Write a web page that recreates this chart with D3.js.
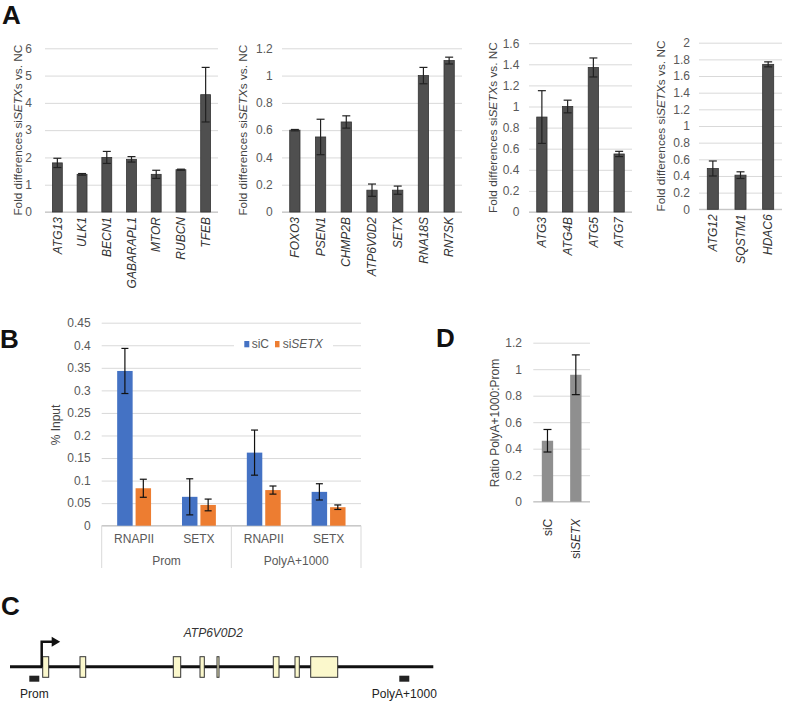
<!DOCTYPE html>
<html><head><meta charset="utf-8">
<script src="https://cdn.jsdelivr.net/npm/d3@7"></script>
<style>body{margin:0;background:#fff}svg{display:block;font-family:"Liberation Sans",Arial,sans-serif}</style>
</head><body><svg id="c" width="800" height="701"></svg>
<script>
// ---------- Panel A data ----------
const a1Genes = ["ATG13","ULK1","BECN1","GABARAPL1","MTOR","RUBCN","TFEB"];
const a1Values = [1.8,1.38,2.0,1.93,1.38,1.55,4.3];
const a1Errors = [0.17,0.03,0.22,0.1,0.15,0.02,1.0];
const a1Ticks = [0,1,2,3,4,5,6];

const a2Genes = ["FOXO3","PSEN1","CHMP2B","ATP6V0D2","SETX","RNA18S","RN7SK"];
const a2Values = [0.6,0.55,0.66,0.16,0.16,1.0,1.11];
const a2Errors = [0.005,0.13,0.045,0.045,0.03,0.06,0.025];
const a2Ticks = [0,0.2,0.4,0.6,0.8,1,1.2];

const a3Genes = ["ATG3","ATG4B","ATG5","ATG7"];
const a3Values = [0.9,1.0,1.37,0.55];
const a3Errors = [0.25,0.06,0.09,0.025];
const a3Ticks = [0,0.2,0.4,0.6,0.8,1,1.2,1.4,1.6];

const a4Genes = ["ATG12","SQSTM1","HDAC6"];
const a4Values = [0.49,0.41,1.74];
const a4Errors = [0.09,0.04,0.03];
const a4Ticks = [0,0.2,0.4,0.6,0.8,1,1.2,1.4,1.6,1.8,2];

// ---------- Panel B data ----------
const bTargets = ["RNAPII","SETX","RNAPII","SETX"];
const bRegions = ["Prom","PolyA+1000"];
const bSeries = ["siC","siSETX"];
const bSiC = [0.343,0.064,0.162,0.075];
const bSiCErr = [0.05,0.04,0.05,0.018];
const bSiSETX = [0.083,0.046,0.079,0.041];
const bSiSETXErr = [0.02,0.013,0.009,0.005];
const bTicks = [0,0.05,0.1,0.15,0.2,0.25,0.3,0.35,0.4,0.45];

// ---------- Panel D data ----------
const dCats = ["siC","siSETX"];
const dValues = [0.46,0.958];
const dErrors = [0.085,0.15];
const dTicks = [0,0.2,0.4,0.6,0.8,1,1.2];

// ---------- Panel C gene model (relative units) ----------
const geneLength = 423.3;
const exons = [[32.7,38.7],[70,75.7],[163.3,170.7],[190,194.3],[207,209],[263.3,269],[285,289.3],[300.7,327.7]];
const tssPos = 31.7;
const primers = [{name:"Prom",s:19.3,e:29.3},{name:"PolyA+1000",s:389.3,e:399.3}];

const svg = d3.select("#c");
const fmt = d => String(+(+d).toFixed(2));
const TICKCOL = "#595959", GRID = "#d9d9d9", BASE = "#bfbfbf";

function italicLabel(sel, parts){
  parts.forEach(p => sel.append("tspan").attr("font-style", p[1] ? "italic" : "normal").text(p[0]));
}

function yAxis(g, y, ticks, gx0, gx1, tickRight){
  const ax = d3.axisLeft(y).tickValues(ticks).tickFormat(fmt)
    .tickSizeInner(-(gx1-gx0)).tickSizeOuter(0).tickPadding(gx0 - tickRight);
  const a = g.append("g").attr("transform",`translate(${gx0},0)`).call(ax);
  a.select(".domain").remove();
  a.selectAll("line").attr("stroke",GRID).attr("stroke-width",1);
  a.selectAll("text").attr("fill",TICKCOL).attr("font-size",12).attr("font-family","Liberation Sans, Arial, sans-serif");
  g.append("line").attr("x1",gx0).attr("x2",gx1).attr("y1",y(0)).attr("y2",y(0)).attr("stroke",BASE).attr("stroke-width",1);
}

function errBar(g, cx, y, v, e, cap, col){
  g.append("line").attr("x1",cx).attr("x2",cx).attr("y1",y(v+e)).attr("y2",y(v-e)).attr("stroke",col).attr("stroke-width",1.2);
  [v+e, v-e].forEach(t => g.append("line").attr("x1",cx-cap/2).attr("x2",cx+cap/2).attr("y1",y(t)).attr("y2",y(t)).attr("stroke",col).attr("stroke-width",1.2));
}

function drawA(c){
  const g = svg.append("g");
  const y = d3.scaleLinear().domain([0, c.ticks[c.ticks.length-1]]).range([c.yBot, c.yTop]);
  const x = d3.scaleBand().domain(c.genes).range([c.gx0, c.gx1]).paddingInner(0.6).paddingOuter(0.3);
  yAxis(g, y, c.ticks, c.gx0, c.gx1, c.tickRight);
  c.genes.forEach((gn,i) => {
    g.append("rect").attr("x",x(gn)).attr("width",x.bandwidth()).attr("y",y(c.values[i])).attr("height",y(0)-y(c.values[i]))
      .attr("fill","#4f4f4f").attr("stroke","#333").attr("stroke-width",0.8);
    errBar(g, x(gn)+x.bandwidth()/2, y, c.values[i], c.errors[i], 8, "#222");
    g.append("text").attr("transform",`translate(${x(gn)+x.bandwidth()/2},${c.yBot+5}) rotate(-90)`)
      .attr("text-anchor","end").attr("dy","0.35em").attr("font-size",12).attr("font-style","italic").attr("fill","#333").text(gn);
  });
  const lab = g.append("text").attr("transform",`translate(${c.labelX},${(c.yTop+c.yBot)/2}) rotate(-90)`)
    .attr("text-anchor","middle").attr("dy","0.35em").attr("font-size",11.8).attr("fill","#444");
  italicLabel(lab, [["Fold differences si",0],["SETX",1],["s vs. NC",0]]);
}

drawA({genes:a1Genes, values:a1Values, errors:a1Errors, ticks:a1Ticks, gx0:45, gx1:218, yTop:48.3, yBot:212, tickRight:32, labelX:18});
drawA({genes:a2Genes, values:a2Values, errors:a2Errors, ticks:a2Ticks, gx0:282, gx1:462, yTop:48.3, yBot:212, tickRight:272.7, labelX:243});
drawA({genes:a3Genes, values:a3Values, errors:a3Errors, ticks:a3Ticks, gx0:529, gx1:632, yTop:43.2, yBot:212, tickRight:519.3, labelX:493});
drawA({genes:a4Genes, values:a4Values, errors:a4Errors, ticks:a4Ticks, gx0:699, gx1:782, yTop:42.7, yBot:209.3, tickRight:690, labelX:660.7});

// ---------- Panel B ----------
(function(){
  const g = svg.append("g");
  const gx0 = 101.7, gx1 = 361, yTop = 322.7, yBot = 525.7;
  const y = d3.scaleLinear().domain([0,0.45]).range([yBot,yTop]);
  const x0 = d3.scaleBand().domain(d3.range(bTargets.length)).range([gx0,gx1]);
  const x1 = d3.scaleBand().domain(bSeries).range([0,x0.bandwidth()]).paddingInner(0.16).paddingOuter(0.84);
  yAxis(g, y, bTicks, gx0, gx1, 90.7);
  const cols = {siC:"#4472C4", siSETX:"#ED7D31"};
  const vals = {siC:[bSiC,bSiCErr], siSETX:[bSiSETX,bSiSETXErr]};
  bTargets.forEach((t,i) => {
    bSeries.forEach(s => {
      const v = vals[s][0][i], e = vals[s][1][i];
      const bx = x0(i)+x1(s);
      g.append("rect").attr("x",bx).attr("width",x1.bandwidth()).attr("y",y(v)).attr("height",y(0)-y(v)).attr("fill",cols[s]);
      errBar(g, bx+x1.bandwidth()/2, y, v, e, 7, "#111");
    });
    g.append("text").attr("x",x0(i)+x0.bandwidth()/2).attr("y",542.6).attr("text-anchor","middle")
      .attr("font-size",12).attr("fill",TICKCOL).text(t);
  });
  bRegions.forEach((r,j) => {
    const xa = x0(j*2), xb = x0(j*2+1)+x0.bandwidth();
    g.append("text").attr("x",(xa+xb)/2).attr("y",565).attr("text-anchor","middle").attr("font-size",12).attr("fill",TICKCOL).text(r);
  });
  [x0(0), x0(2), x0(3)+x0.bandwidth()].forEach(xx =>
    g.append("line").attr("x1",xx).attr("x2",xx).attr("y1",yBot).attr("y2",568).attr("stroke",GRID).attr("stroke-width",1));
  // legend
  g.append("rect").attr("x",234).attr("y",336).attr("width",99).attr("height",16).attr("fill","#fff");
  g.append("rect").attr("x",244.3).attr("y",341).attr("width",5).attr("height",6.3).attr("fill",cols.siC);
  g.append("text").attr("x",251.7).attr("y",348.3).attr("font-size",12).attr("fill",TICKCOL).text("siC");
  g.append("rect").attr("x",275).attr("y",341).attr("width",4.5).attr("height",6.3).attr("fill",cols.siSETX);
  const lt = g.append("text").attr("x",282.7).attr("y",348.3).attr("font-size",12).attr("fill",TICKCOL);
  italicLabel(lt, [["si",0],["SETX",1]]);
  g.append("text").attr("transform",`translate(56,425) rotate(-90)`).attr("text-anchor","middle").attr("dy","0.35em")
    .attr("font-size",12).attr("fill","#444").text("% Input");
})();

// ---------- Panel D ----------
(function(){
  const g = svg.append("g");
  const gx0 = 533.3, gx1 = 590, yTop = 342.7, yBot = 501.7;
  const y = d3.scaleLinear().domain([0,1.2]).range([yBot,yTop]);
  const x = d3.scaleBand().domain(dCats).range([gx0,gx1]).paddingInner(0.6).paddingOuter(0.3);
  yAxis(g, y, dTicks, gx0, gx1, 522);
  dCats.forEach((c,i) => {
    g.append("rect").attr("x",x(c)).attr("width",x.bandwidth()).attr("y",y(dValues[i])).attr("height",y(0)-y(dValues[i])).attr("fill","#8f8f8f");
    errBar(g, x(c)+x.bandwidth()/2, y, dValues[i], dErrors[i], 8, "#111");
    const t = g.append("text").attr("transform",`translate(${x(c)+x.bandwidth()/2},${yBot+17}) rotate(-90)`)
      .attr("text-anchor","end").attr("dy","0.35em").attr("font-size",12).attr("fill","#333");
    if (c === "siSETX") italicLabel(t, [["si",0],["SETX",1]]); else t.text(c);
  });
  g.append("text").attr("transform",`translate(495,423) rotate(-90)`).attr("text-anchor","middle").attr("dy","0.35em")
    .attr("font-size",12).attr("fill","#444").text("Ratio PolyA+1000:Prom");
})();

// ---------- Panel C ----------
(function(){
  const g = svg.append("g");
  const gxs = d3.scaleLinear().domain([0,geneLength]).range([10,433.3]);
  const ly = 666.7;
  g.append("line").attr("x1",gxs(0)).attr("x2",gxs(geneLength)).attr("y1",ly).attr("y2",ly).attr("stroke","#111").attr("stroke-width",3);
  exons.forEach(e => g.append("rect").attr("x",gxs(e[0])).attr("width",gxs(e[1])-gxs(e[0])).attr("y",656.7).attr("height",20.6)
    .attr("fill","#fbf8cc").attr("stroke","#333").attr("stroke-width",1));
  const tx = gxs(tssPos);
  g.append("path").attr("d",`M${tx},${ly} V641.7 H${tx+11}`).attr("fill","none").attr("stroke","#111").attr("stroke-width",2.5);
  g.append("path").attr("d",`M${tx+10},636.7 L${tx+18.5},641.7 L${tx+10},646.7 Z`).attr("fill","#111");
  primers.forEach(p => {
    g.append("rect").attr("x",gxs(p.s)).attr("width",gxs(p.e)-gxs(p.s)).attr("y",675.7).attr("height",6).attr("fill","#222");
    g.append("text").attr("x",(gxs(p.s)+gxs(p.e))/2).attr("y",698.3).attr("text-anchor","middle").attr("font-size",12).attr("fill","#222").text(p.name);
  });
  g.append("text").attr("x",213.3).attr("y",636.7).attr("text-anchor","middle").attr("font-size",12).attr("font-style","italic").attr("fill","#333").text("ATP6V0D2");
})();

// ---------- Panel letters ----------
[["A",2,23.5],["B",0,348],["D",436,346.7],["C",1,615]].forEach(l =>
  svg.append("text").attr("x",l[1]).attr("y",l[2]).attr("font-size",26).attr("font-weight","bold").attr("fill","#111").text(l[0]));
</script></body></html>
